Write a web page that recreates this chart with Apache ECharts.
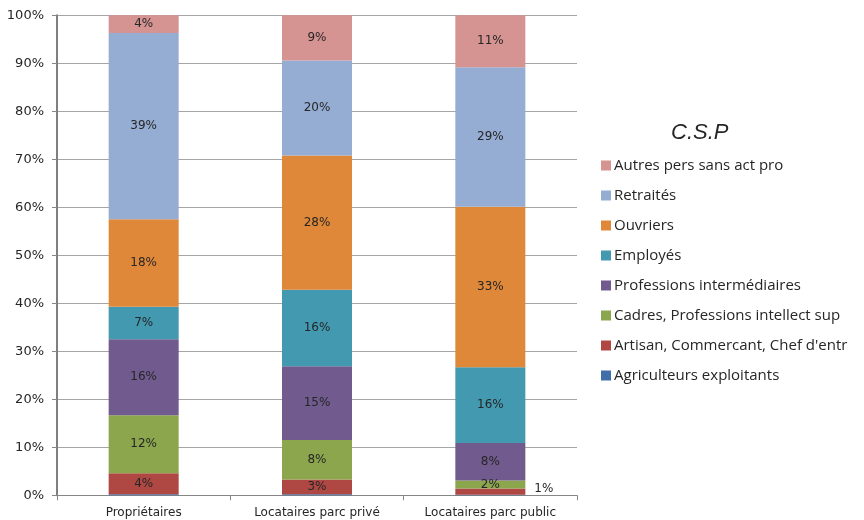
<!DOCTYPE html>
<html>
<head>
<meta charset="utf-8">
<script src="https://cdn.jsdelivr.net/npm/echarts@6/dist/echarts.min.js"></script>
<style>html,body{margin:0;padding:0;background:#fff}#c{width:864px;height:520px}</style>
</head>
<body>
<div id="c"></div>
<script>
const categories = ['Propriétaires', 'Locataires parc privé', 'Locataires parc public'];
const agriculteurs = [0.2, 0.2, 0.1];
const artisans = [4.4, 3.1, 1.3];
const cadres = [12.1, 8.2, 1.7];
const professions = [15.8, 15.4, 7.8];
const employes = [6.8, 15.9, 15.8];
const ouvriers = [18.2, 28.0, 33.4];
const retraites = [38.8, 19.8, 29.1];
const autres = [3.7, 9.4, 10.8];
const yTicks = [0, 10, 20, 30, 40, 50, 60, 70, 80, 90, 100];

const seriesDefs = [
  { name: 'Agriculteurs exploitants', data: agriculteurs, color: '#3F6EA8' },
  { name: "Artisan, Commercant, Chef d'entr", data: artisans, color: '#AF4843' },
  { name: 'Cadres, Professions intellect sup', data: cadres, color: '#8BA64C' },
  { name: 'Professions intermédiaires', data: professions, color: '#705A8E' },
  { name: 'Employés', data: employes, color: '#4299B0' },
  { name: 'Ouvriers', data: ouvriers, color: '#E0883A' },
  { name: 'Retraités', data: retraites, color: '#95ACD3' },
  { name: 'Autres pers sans act pro', data: autres, color: '#D59392' }
];

const series = seriesDefs.map(function (s) {
  return {
    name: s.name,
    type: 'bar',
    stack: 'total',
    barWidth: 70,
    itemStyle: { color: s.color },
    label: {
      show: true,
      position: 'inside',
      color: '#262626',
      fontSize: 12,
      fontFamily: 'DejaVu Sans',
      formatter: function (p) { return p.value < 0.5 ? '' : Math.round(p.value) + '%'; }
    },
    data: s.data.map(function (v, i) {
      if (s.name.indexOf('Artisan') === 0 && i === 2) {
        return { value: v, label: { position: 'right', distance: 9, offset: [0, -3] } };
      }
      return v;
    })
  };
});

const chart = echarts.init(document.getElementById('c'), null, { renderer: 'canvas' });
chart.setOption({
  animation: false,
  title: {
    text: 'C.S.P',
    left: 666,
    top: 117,
    textStyle: { fontStyle: 'italic', fontWeight: 'normal', fontSize: 22, color: '#262626', fontFamily: 'Liberation Sans' }
  },
  legend: {
    orient: 'vertical',
    left: 596,
    top: 153,
    itemWidth: 10,
    itemHeight: 10,
    itemGap: 15,
    icon: 'rect',
    textStyle: { fontSize: 15, color: '#262626', fontFamily: 'Open Sans', padding: [0, 0, 0, -2] },
    data: seriesDefs.slice().reverse().map(function (s) { return s.name; })
  },
  grid: { left: 57, right: 287, top: 15.3, bottom: 24.7, containLabel: false },
  xAxis: {
    type: 'category',
    data: categories,
    axisLine: { lineStyle: { color: '#868686', width: 1 } },
    axisTick: { show: true, alignWithLabel: false, length: 5, lineStyle: { color: '#868686' } },
    axisLabel: { color: '#262626', fontSize: 12, fontFamily: 'DejaVu Sans', margin: 12 }
  },
  yAxis: {
    type: 'value',
    min: yTicks[0],
    max: yTicks[yTicks.length - 1],
    interval: 10,
    axisLine: { show: true, lineStyle: { color: '#7F7F7F', width: 2 } },
    axisTick: { show: true, length: 5, lineStyle: { color: '#868686' } },
    axisLabel: { color: '#262626', fontSize: 13, fontFamily: 'DejaVu Sans', margin: 13, formatter: '{value}%' },
    splitLine: { show: true, lineStyle: { color: '#A6A6A6', width: 1 } }
  },
  series: series
});
</script>
</body>
</html>
